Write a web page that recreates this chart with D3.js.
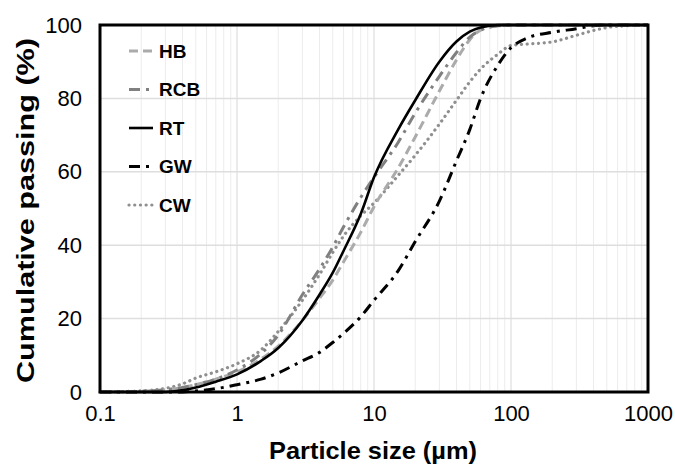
<!DOCTYPE html>
<html>
<head>
<meta charset="utf-8">
<script src="https://cdn.jsdelivr.net/npm/d3@7"></script>
<style>
body { margin: 0; background: #fff; }
text { font-family: "Liberation Sans", Arial, sans-serif; }
</style>
</head>
<body>
<svg id="chart"></svg>
<script>
// particle sizes (um) shared by every series
var sizes = [0.1, 0.2, 0.3, 0.4, 0.5, 0.7, 1, 1.5, 2, 3, 4, 5, 6, 8, 10, 15, 20, 30, 40, 50, 60, 80, 100, 130, 200, 300, 400, 500, 700, 1000];

// cumulative passing (%)
var hbPass  = [0, 0.2, 0.6, 1.2, 2, 3.5, 5.5, 9, 12.5, 19.5, 25.5, 30.5, 35.5, 43.5, 50.5, 61, 69.5, 82, 90.5, 96, 98.6, 99.8, 100, 100, 100, 100, 100, 100, 100, 100];
var rcbPass = [0, 0.2, 0.6, 1.2, 2, 3.5, 6, 10.5, 15.5, 26.5, 33.5, 39.5, 45, 53, 58.5, 68, 76, 86, 92.5, 96.7, 98.6, 99.8, 100, 100, 100, 100, 100, 100, 100, 100];
var rtPass  = [0, 0, 0, 0.5, 1.2, 2.8, 4.8, 8.5, 12, 19.5, 26.5, 32.5, 38.5, 48.5, 58.5, 71.5, 79.5, 90, 95.5, 98.2, 99.3, 100, 100, 100, 100, 100, 100, 100, 100, 100];
var gwPass  = [0, 0, 0, 0, 0.3, 0.9, 2, 3.5, 5.2, 8.5, 10.8, 13.5, 16, 20.5, 25, 33, 41, 52, 63, 71.5, 80, 89, 93.8, 96.4, 98, 99, 99.8, 100, 100, 100];
var cwPass  = [0, 0.3, 1, 2.2, 3.8, 5.5, 7.7, 11.5, 16.5, 25, 32, 38, 42.5, 48, 51.5, 59, 64.5, 73, 79.5, 84.5, 88, 92, 94.4, 94.8, 95.4, 97.2, 98.5, 99.3, 99.8, 100];

var seriesNames = ['HB', 'RCB', 'RT', 'GW', 'CW'];
var xTicks = [0.1, 1, 10, 100, 1000];
var yTicks = [0, 20, 40, 60, 80, 100];

var width = 675,
    height = 464,
    plotLeft = 100,
    plotRight = 648,
    plotTop = 25,
    plotBottom = 392;

var styles = {
    HB:  { color: '#ababab', width: 3, dash: '9,5', cap: 'butt' },
    RCB: { color: '#808080', width: 3, dash: '11,6,3,6', cap: 'butt' },
    RT:  { color: '#000000', width: 2.6, dash: null, cap: 'butt' },
    GW:  { color: '#000000', width: 3, dash: '11,6,3,6', cap: 'butt' },
    CW:  { color: '#8f8f8f', width: 3.2, dash: '0.1,5.6', cap: 'round' }
};

var passBySeries = { HB: hbPass, RCB: rcbPass, RT: rtPass, GW: gwPass, CW: cwPass };

var svg = d3.select('svg#chart')
    .attr('width', width)
    .attr('height', height);

var x = d3.scaleLog().domain([0.1, 1000]).range([plotLeft, plotRight]);
var y = d3.scaleLinear().domain([0, 100]).range([plotBottom, plotTop]);

// minor vertical grid
var minor = [];
[0.1, 1, 10, 100].forEach(function (dec) {
    for (var k = 2; k <= 9; k++) minor.push(dec * k);
});
svg.append('g').selectAll('line')
    .data(minor)
    .enter().append('line')
    .attr('x1', function (d) { return x(d); })
    .attr('x2', function (d) { return x(d); })
    .attr('y1', plotTop)
    .attr('y2', plotBottom)
    .attr('stroke', '#ececec')
    .attr('stroke-width', 1);

svg.append('g').selectAll('line')
    .data(xTicks.slice(1, -1))
    .enter().append('line')
    .attr('x1', function (d) { return x(d); })
    .attr('x2', function (d) { return x(d); })
    .attr('y1', plotTop)
    .attr('y2', plotBottom)
    .attr('stroke', '#dedede')
    .attr('stroke-width', 1.2);

svg.append('g').selectAll('line')
    .data(yTicks.slice(1, -1))
    .enter().append('line')
    .attr('x1', plotLeft)
    .attr('x2', plotRight)
    .attr('y1', function (d) { return y(d); })
    .attr('y2', function (d) { return y(d); })
    .attr('stroke', '#dedede')
    .attr('stroke-width', 1.5);

// curves
var line = d3.line()
    .x(function (d) { return x(d[0]); })
    .y(function (d) { return y(d[1]); })
    .curve(d3.curveMonotoneX);

var drawOrder = ['CW', 'GW', 'HB', 'RCB', 'RT'];
drawOrder.forEach(function (name) {
    var s = styles[name];
    var pts = sizes.map(function (d, i) { return [d, passBySeries[name][i]]; });
    svg.append('path')
        .datum(pts)
        .attr('d', line)
        .attr('fill', 'none')
        .attr('stroke', s.color)
        .attr('stroke-width', s.width)
        .attr('stroke-linecap', s.cap)
        .attr('stroke-dasharray', s.dash);
});

// plot border
svg.append('rect')
    .attr('x', plotLeft)
    .attr('y', plotTop)
    .attr('width', plotRight - plotLeft)
    .attr('height', plotBottom - plotTop)
    .attr('fill', 'none')
    .attr('stroke', '#000')
    .attr('stroke-width', 3);

// axes
var xAxis = d3.axisBottom(x)
    .tickValues(xTicks)
    .tickFormat(function (d) { return String(d); })
    .tickSize(0)
    .tickPadding(13);
var gx = svg.append('g')
    .attr('transform', 'translate(0,' + plotBottom + ')')
    .call(xAxis);
gx.select('.domain').remove();
gx.selectAll('text')
    .attr('font-size', 22)
    .attr('fill', '#000')
    .style('font-family', '"Liberation Sans", Arial, sans-serif');

var yAxis = d3.axisLeft(y)
    .tickValues(yTicks)
    .tickSize(0)
    .tickPadding(18);
var gy = svg.append('g')
    .attr('transform', 'translate(' + plotLeft + ',0)')
    .call(yAxis);
gy.select('.domain').remove();
gy.selectAll('text')
    .attr('font-size', 22)
    .attr('fill', '#000')
    .style('font-family', '"Liberation Sans", Arial, sans-serif');

// axis titles
svg.append('text')
    .attr('x', 373)
    .attr('y', 459)
    .attr('text-anchor', 'middle')
    .attr('font-size', 24)
    .attr('font-weight', 'bold')
    .attr('textLength', 208)
    .attr('lengthAdjust', 'spacingAndGlyphs')
    .text('Particle size (µm)');

svg.append('text')
    .attr('transform', 'translate(34,' + ((plotTop + plotBottom) / 2 + 2) + ') rotate(-90)')
    .attr('text-anchor', 'middle')
    .attr('font-size', 24)
    .attr('font-weight', 'bold')
    .attr('textLength', 345)
    .attr('lengthAdjust', 'spacingAndGlyphs')
    .text('Cumulative passing (%)');

// legend
var legend = svg.append('g').selectAll('g')
    .data(seriesNames)
    .enter().append('g')
    .attr('transform', function (d, i) { return 'translate(129,' + (51 + i * 38.5) + ')'; });

legend.append('line')
    .attr('x1', 0)
    .attr('x2', 24)
    .attr('stroke', function (d) { return styles[d].color; })
    .attr('stroke-width', function (d) { return styles[d].width; })
    .attr('stroke-linecap', function (d) { return styles[d].cap; })
    .attr('stroke-dasharray', function (d) { return styles[d].dash; });

legend.append('text')
    .attr('x', 30)
    .attr('dy', '0.35em')
    .attr('font-size', 19)
    .attr('font-weight', 'bold')
    .text(function (d) { return d; });
</script>
</body>
</html>
